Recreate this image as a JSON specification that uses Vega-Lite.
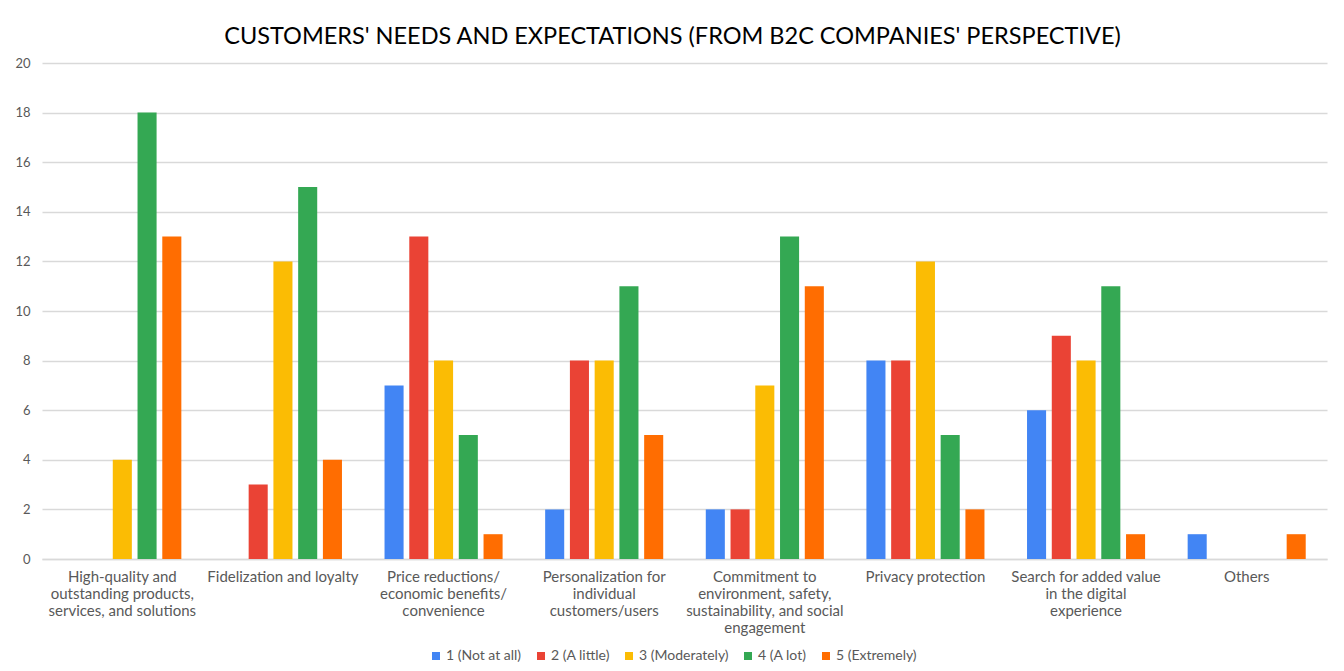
{
  "$schema": "https://vega.github.io/schema/vega-lite/v6.json",
  "width": 1285,
  "height": 496,
  "autosize": {"type": "none"},
  "padding": {"left": 42, "top": 63, "right": 17, "bottom": 112},
  "background": "white",
  "title": {
    "text": "CUSTOMERS' NEEDS AND EXPECTATIONS (FROM B2C COMPANIES' PERSPECTIVE)",
    "font": "Lato",
    "fontSize": 23.5,
    "fontWeight": "normal",
    "color": "#000000",
    "anchor": "middle",
    "offset": 9,
    "dx": -12
  },
  "config": {
    "view": {"stroke": null},
    "font": "Lato"
  },
  "data": {
    "values": [
      {"category": "High-quality and|outstanding products,|services, and solutions", "series": "1 (Not at all)", "value": 0},
      {"category": "High-quality and|outstanding products,|services, and solutions", "series": "2 (A little)", "value": 0},
      {"category": "High-quality and|outstanding products,|services, and solutions", "series": "3 (Moderately)", "value": 4},
      {"category": "High-quality and|outstanding products,|services, and solutions", "series": "4 (A lot)", "value": 18},
      {"category": "High-quality and|outstanding products,|services, and solutions", "series": "5 (Extremely)", "value": 13},
      {"category": "Fidelization and loyalty", "series": "1 (Not at all)", "value": 0},
      {"category": "Fidelization and loyalty", "series": "2 (A little)", "value": 3},
      {"category": "Fidelization and loyalty", "series": "3 (Moderately)", "value": 12},
      {"category": "Fidelization and loyalty", "series": "4 (A lot)", "value": 15},
      {"category": "Fidelization and loyalty", "series": "5 (Extremely)", "value": 4},
      {"category": "Price reductions/|economic benefits/|convenience", "series": "1 (Not at all)", "value": 7},
      {"category": "Price reductions/|economic benefits/|convenience", "series": "2 (A little)", "value": 13},
      {"category": "Price reductions/|economic benefits/|convenience", "series": "3 (Moderately)", "value": 8},
      {"category": "Price reductions/|economic benefits/|convenience", "series": "4 (A lot)", "value": 5},
      {"category": "Price reductions/|economic benefits/|convenience", "series": "5 (Extremely)", "value": 1},
      {"category": "Personalization for|individual|customers/users", "series": "1 (Not at all)", "value": 2},
      {"category": "Personalization for|individual|customers/users", "series": "2 (A little)", "value": 8},
      {"category": "Personalization for|individual|customers/users", "series": "3 (Moderately)", "value": 8},
      {"category": "Personalization for|individual|customers/users", "series": "4 (A lot)", "value": 11},
      {"category": "Personalization for|individual|customers/users", "series": "5 (Extremely)", "value": 5},
      {"category": "Commitment to|environment, safety,|sustainability, and social|engagement", "series": "1 (Not at all)", "value": 2},
      {"category": "Commitment to|environment, safety,|sustainability, and social|engagement", "series": "2 (A little)", "value": 2},
      {"category": "Commitment to|environment, safety,|sustainability, and social|engagement", "series": "3 (Moderately)", "value": 7},
      {"category": "Commitment to|environment, safety,|sustainability, and social|engagement", "series": "4 (A lot)", "value": 13},
      {"category": "Commitment to|environment, safety,|sustainability, and social|engagement", "series": "5 (Extremely)", "value": 11},
      {"category": "Privacy protection", "series": "1 (Not at all)", "value": 8},
      {"category": "Privacy protection", "series": "2 (A little)", "value": 8},
      {"category": "Privacy protection", "series": "3 (Moderately)", "value": 12},
      {"category": "Privacy protection", "series": "4 (A lot)", "value": 5},
      {"category": "Privacy protection", "series": "5 (Extremely)", "value": 2},
      {"category": "Search for added value|in the digital|experience", "series": "1 (Not at all)", "value": 6},
      {"category": "Search for added value|in the digital|experience", "series": "2 (A little)", "value": 9},
      {"category": "Search for added value|in the digital|experience", "series": "3 (Moderately)", "value": 8},
      {"category": "Search for added value|in the digital|experience", "series": "4 (A lot)", "value": 11},
      {"category": "Search for added value|in the digital|experience", "series": "5 (Extremely)", "value": 1},
      {"category": "Others", "series": "1 (Not at all)", "value": 1},
      {"category": "Others", "series": "2 (A little)", "value": 0},
      {"category": "Others", "series": "3 (Moderately)", "value": 0},
      {"category": "Others", "series": "4 (A lot)", "value": 0},
      {"category": "Others", "series": "5 (Extremely)", "value": 1}
    ]
  },
  "mark": {"type": "bar"},
  "encoding": {
    "x": {
      "field": "category",
      "type": "nominal",
      "sort": null,
      "title": null,
      "scale": {"paddingInner": 0.265, "paddingOuter": 0.1325},
      "axis": {
        "labelAngle": 0,
        "labelExpr": "split(datum.label, '|')",
        "labelFontSize": 15,
        "labelColor": "#595959",
        "labelLineHeight": 17,
        "labelPadding": 10,
        "labelLimit": 300,
        "ticks": false,
        "domainColor": "#d9d9d9",
        "domainWidth": 1.5
      }
    },
    "xOffset": {
      "field": "series",
      "type": "nominal",
      "scale": {"paddingInner": 0.23, "paddingOuter": 0}
    },
    "y": {
      "field": "value",
      "type": "quantitative",
      "title": null,
      "scale": {"domain": [0, 20]},
      "axis": {
        "values": [0, 2, 4, 6, 8, 10, 12, 14, 16, 18, 20],
        "labelFontSize": 13,
        "labelColor": "#595959",
        "labelPadding": 12,
        "ticks": false,
        "domain": false,
        "gridColor": "#d9d9d9",
        "gridWidth": 1.5
      }
    },
    "color": {
      "field": "series",
      "type": "nominal",
      "title": null,
      "scale": {
        "domain": ["1 (Not at all)", "2 (A little)", "3 (Moderately)", "4 (A lot)", "5 (Extremely)"],
        "range": ["#4285F4", "#EA4335", "#FBBC04", "#34A853", "#FF6D01"]
      },
      "legend": {
        "orient": "none",
        "legendX": 387,
        "legendY": 586,
        "padding": 0,
        "direction": "horizontal",
        "symbolType": "square",
        "symbolSize": 64,
        "symbolStrokeWidth": 0,
        "labelFontSize": 14,
        "labelColor": "#595959",
        "columnPadding": 12,
        "labelOffset": 3
      }
    }
  }
}
